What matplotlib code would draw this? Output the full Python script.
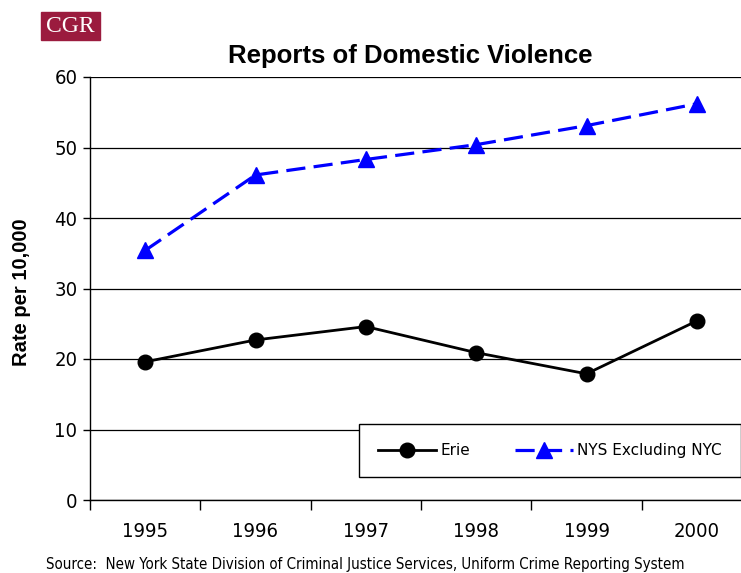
import matplotlib
matplotlib.use('Agg')
import matplotlib.pyplot as plt
from matplotlib.patches import Rectangle

years = ['1995', '1996', '1997', '1998', '1999', '2000']
erie = [19.6, 22.7, 24.6, 20.9, 17.9, 25.4]
nys_excl_nyc = [35.4, 46.1, 48.3, 50.4, 53.1, 56.2]
y_ticks = [0, 10, 20, 30, 40, 50, 60]

W, H = 741, 573
fig = plt.figure(figsize=(W / 100, H / 100), dpi=100)

# plot area runs a little past the right edge of the canvas
ax = fig.add_axes([90 / W, 1 - 500 / H, (752 - 90) / W, (500 - 77) / H])

x = list(range(len(years)))
ax.plot(x, erie, color='black', lw=2.0, marker='o', markersize=10.5,
        label='Erie', zorder=4)
ax.plot(x, nys_excl_nyc, color='#0000ff', lw=2.3, dashes=(6, 2.6),
        marker='^', markersize=12, label='NYS Excluding NYC', zorder=4)

ax.set_xlim(-0.5, len(years) - 0.5)
ax.set_ylim(0, 60)
ax.set_yticks(y_ticks)
ax.yaxis.grid(True, color='black', lw=0.9)
ax.set_axisbelow(True)

# category labels centred, tick marks between categories
ax.set_xticks(x)
ax.set_xticklabels(years)
ax.set_xticks([i - 0.5 for i in range(len(years) + 1)], minor=True)
ax.tick_params(axis='x', which='major', length=0, pad=16)
ax.tick_params(axis='x', which='minor', length=7, width=1, direction='out')
ax.tick_params(axis='y', length=5, width=1, direction='out', pad=4)
for lab in ax.get_xticklabels() + ax.get_yticklabels():
    lab.set_fontfamily('DejaVu Sans')
    lab.set_fontstretch('condensed')
    lab.set_fontsize(14.5)

for side in ['top', 'right']:
    ax.spines[side].set_visible(False)
ax.spines['left'].set_linewidth(1)
ax.spines['bottom'].set_linewidth(1)

fig.text(22 / W, 1 - 292 / H, 'Rate per 10,000', rotation=90,
         ha='center', va='center', fontsize=14.5, fontweight='bold',
         family='Liberation Sans')
fig.text(410 / W, 1 - 56 / H, 'Reports of Domestic Violence',
         ha='center', va='center', fontsize=18.5, fontweight='bold',
         family='Liberation Sans')

leg = fig.legend(loc='center', ncol=2, mode='expand',
                 bbox_to_anchor=(359 / W, 1 - 478 / H, (741 - 359) / W, 55 / H),
                 bbox_transform=fig.transFigure, frameon=True, fancybox=False,
                 edgecolor='black', handlelength=3.8, handletextpad=0.3,
                 borderpad=1.25, borderaxespad=0,
                 prop={'family': 'DejaVu Sans', 'size': 11})
leg.get_frame().set_linewidth(1)
leg.get_frame().set_facecolor('white')
leg.get_frame().set_alpha(1)

fig.text(46 / W, 1 - 564 / H,
         'Source:  New York State Division of Criminal Justice Services, '
         'Uniform Crime Reporting System',
         ha='left', va='center', fontsize=10.8, family='DejaVu Sans',
         fontstretch='condensed')

# CGR badge in the top corner
fig.patches.append(Rectangle((41 / W, 1 - 40 / H), 59 / W, 28 / H,
                             transform=fig.transFigure, color='#9b1b3e'))
fig.text(70.5 / W, 1 - 26.5 / H, 'CGR', ha='center', va='center',
         color='white', fontsize=17, family='Liberation Serif')

fig.savefig('out.png', dpi=100)
